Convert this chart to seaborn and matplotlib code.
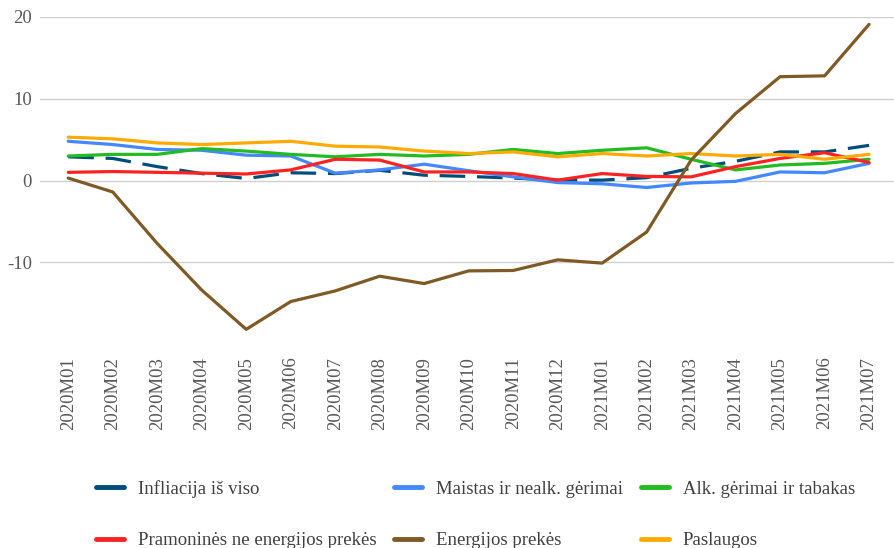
import matplotlib
matplotlib.use("Agg")
import matplotlib.pyplot as plt
import seaborn as sns
import pandas as pd

months = ["2020M01", "2020M02", "2020M03", "2020M04", "2020M05", "2020M06",
          "2020M07", "2020M08", "2020M09", "2020M10", "2020M11", "2020M12",
          "2021M01", "2021M02", "2021M03", "2021M04", "2021M05", "2021M06",
          "2021M07"]

infliacija = [2.9, 2.7, 1.7, 0.85, 0.25, 0.95, 0.85, 1.25, 0.65, 0.5, 0.3, 0.05,
              0.05, 0.35, 1.5, 2.35, 3.5, 3.5, 4.3]
maistas = [4.8, 4.4, 3.8, 3.7, 3.1, 3.0, 0.9, 1.3, 2.0, 1.2, 0.45, -0.25,
           -0.4, -0.85, -0.3, -0.1, 1.05, 0.95, 2.1]
alkoholis = [3.0, 3.2, 3.2, 3.9, 3.6, 3.2, 2.9, 3.2, 3.0, 3.2, 3.8, 3.3,
             3.7, 4.0, 2.6, 1.3, 1.9, 2.1, 2.6]
pramonines = [1.0, 1.1, 1.0, 0.9, 0.8, 1.3, 2.6, 2.5, 1.05, 1.05, 0.85, 0.05,
              0.85, 0.5, 0.45, 1.7, 2.7, 3.4, 2.2]
energija = [0.3, -1.4, -7.7, -13.4, -18.2, -14.8, -13.5, -11.7, -12.6, -11.05,
            -11.0, -9.7, -10.1, -6.3, 2.5, 8.2, 12.7, 12.8, 19.1]
paslaugos = [5.3, 5.1, 4.6, 4.4, 4.6, 4.8, 4.2, 4.1, 3.6, 3.3, 3.5, 2.9,
             3.3, 3.0, 3.3, 3.0, 3.2, 2.6, 3.2]

series = {
    "Infliacija iš viso": (infliacija, "#004d7a"),
    "Maistas ir nealk. gėrimai": (maistas, "#4488ff"),
    "Alk. gėrimai ir tabakas": (alkoholis, "#22bb22"),
    "Pramoninės ne energijos prekės": (pramonines, "#ff2222"),
    "Energijos prekės": (energija, "#7f5a25"),
    "Paslaugos": (paslaugos, "#ffaa00"),
}

sns.set_theme(style="white")
plt.rcParams["font.family"] = ["Liberation Serif", "DejaVu Serif"]
plt.rcParams["axes.unicode_minus"] = False

fig = plt.figure(figsize=(8.94, 5.48), dpi=100)
ax = fig.add_axes([0.045, 0.3796, 0.955, 0.5894])

x = list(range(len(months)))
handles = {}
draw_order = ["Infliacija iš viso", "Maistas ir nealk. gėrimai",
              "Alk. gėrimai ir tabakas", "Pramoninės ne energijos prekės",
              "Paslaugos", "Energijos prekės"]
for name in draw_order:
    vals, col = series[name]
    df = pd.DataFrame({"x": x, "y": vals})
    sns.lineplot(data=df, x="x", y="y", ax=ax, color=col, linewidth=2.3)
    line = ax.get_lines()[-1]
    if name == "Infliacija iš viso":
        line.set_dashes((8, 3.7))
    handles[name] = plt.Line2D([], [], color=col, linewidth=3.5)

ax.set_xlim(-0.63, 18.56)
ax.set_ylim(-19.5, 20)
ax.set_yticks([-10, 0, 10, 20])
ax.set_xticks(x)
ax.set_xticklabels(months, rotation=90, va="top")
ax.set_xlabel("")
ax.set_ylabel("")
ax.yaxis.grid(True, color="#d0d0d0", linewidth=1.0)
ax.xaxis.grid(False)
ax.set_axisbelow(True)
for s in ax.spines.values():
    s.set_visible(False)
ax.tick_params(axis="x", length=0, pad=12, labelsize=13.5, labelcolor="#595959")
ax.tick_params(axis="y", length=0, pad=6, labelsize=13.5, labelcolor="#595959")

legend_order = ["Infliacija iš viso", "Pramoninės ne energijos prekės",
                "Maistas ir nealk. gėrimai", "Energijos prekės",
                "Alk. gėrimai ir tabakas", "Paslaugos"]
leg = fig.legend([handles[n] for n in legend_order], legend_order, ncol=3,
                 loc="upper left", bbox_to_anchor=(0.1074, 0.124),
                 frameon=False, fontsize=13.5, handlelength=1.5,
                 handletextpad=0.75, columnspacing=0.92, labelspacing=1.82,
                 borderaxespad=0, borderpad=0)
for t in leg.get_texts():
    t.set_color("#404040")

fig.savefig("out.png", dpi=100)
